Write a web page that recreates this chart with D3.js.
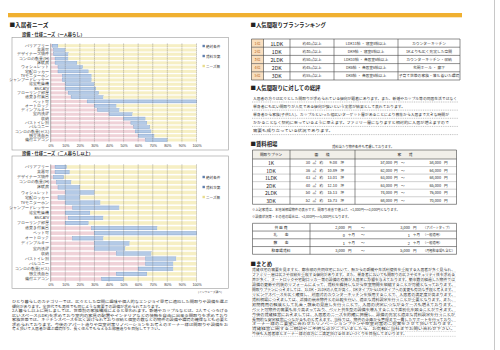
<!DOCTYPE html>
<html>
<head>
<meta charset="utf-8">
<script src="https://cdn.jsdelivr.net/npm/d3@7"></script>
<style>
  body { margin: 0; background: #fff; }
  svg { display: block; font-family: "Noto Sans CJK JP", "Noto Sans", sans-serif; }
</style>
</head>
<body>
<div id="page"></div>
<script>
// ---- data ----
const categories = ["バリアフリー", "楽器可", "デザイナーズ物件", "コンロの数量(IH)", "床暖房", "ウォシュレット",
  "宅配ロッカー", "TVモニターホン", "シャンプードレッサー", "浴室乾燥機", "BS/CATV", "フローリング部屋",
  "追焚き付風呂", "ペット可", "オートロック", "ディンプルキー", "室内洗濯", "収納", "バストイレ別",
  "バルコニー", "コンロの数量(ガス)", "独立洗面台", "備付エアコン"];
const seriesNames = ["絶対条件", "賃料次第", "ニーズ無"];
const tickValues = [0, 10, 20, 30, 40, 50, 60, 70, 80, 90, 100];

// 一人暮らし (%)
const singleAbs  = [1, 2, 2, 3, 3, 5, 5, 8, 8, 10, 10, 12, 14, 25, 30, 32, 40, 50, 55, 57, 58, 60, 65];
const singleRent = [4, 8, 10, 9, 15, 17, 21, 20, 20, 20, 21, 21, 22, 75, 15, 15, 16, 15, 11, 11, 11, 11, 15];
const singleNone = [95, 90, 88, 88, 82, 78, 74, 72, 72, 70, 69, 67, 64, 0, 55, 53, 44, 35, 34, 32, 31, 29, 20];

// 二人暮らし以上 (%)
const multiAbs  = [3, 3, 2, 4, 5, 10, 5, 10, 15, 10, 12, 10, 28, 30, 15, 30, 30, 45, 65, 65, 60, 45, 35];
const multiRent = [8, 10, 7, 10, 15, 20, 15, 24, 32, 17, 24, 16, 45, 70, 21, 24, 21, 24, 21, 19, 24, 21, 15];
const multiNone = [89, 87, 91, 86, 80, 70, 80, 66, 53, 73, 64, 74, 27, 0, 64, 46, 49, 31, 14, 16, 16, 34, 50];

// 人気間取りプランランキング
const rankLabels = ["1位", "2位", "3位", "4位", "5位"];
const rankPlans  = ["1LDK", "1DK", "2LDK", "2DK", "3DK"];
const rankAreas  = ["約40㎡以上", "約30㎡以上", "約50㎡以上", "約45㎡以上", "約55㎡以上"];
const rankRooms  = ["LDK11帖 ・ 寝室8帖以上", "DK9帖 ・ 寝室8帖以上", "LDK10帖 ・ 各居室6帖以上",
  "DK6帖 ・ 各居室6帖以上", "DK8帖 ・ 各居室6帖以上"];
const rankPoints = ["カウンターキッチン", "1Kよりも広く充実した空間", "カウンターキッチン・収納",
  "玄関ホール ・ 廊下", "子育て世帯の家族・落ち着いた環境"];

// 賃料相場
const rentPlans = ["1K", "1DK", "1LDK", "2DK", "2LDK", "3DK"];
const rentSqm   = [30, 36, 43, 40, 50, 52];
const rentTsubo = ["9.08", "10.89", "13.01", "12.10", "15.13", "15.73"];
const rentLow   = [57000, 62000, 63000, 63000, 74000, 68000];
const rentHigh  = [58000, 64000, 68000, 65000, 76000, 70000];

const feeLabels = ["共 益 費", "礼　　金", "敷　　金", "駐車場賃料"];
const feeLow    = ["2,000", "0", "1", "3,000"];
const feeHigh   = ["3,000", "1", "2", "5,000"];
const feeUnits  = ["円", "ヶ月", "ヶ月", "円"];
const feeNotes  = ["（アパートタイプ）", "（一般適用）", "（一般適用）", "（月極駐車場も含む）"];

const colors = ["#efd2d8", "#b4cae6", "#f6efc4"];
const strokes = ["none", "#6f93c2", "none"];

// ---- svg ----
const svg = d3.select("#page").append("svg")
    .attr("width", 500)
    .attr("height", 350);

function label(x, y, s, size, o = {}) {
  const t = svg.append("text")
      .attr("x", x).attr("y", y)
      .attr("font-size", size)
      .attr("fill", o.fill || "#222")
      .attr("font-weight", o.bold ? "bold" : null)
      .attr("text-anchor", o.anchor || "start")
      .attr("dominant-baseline", "central")
      .text(s);
  if (o.len) t.attr("textLength", o.len).attr("lengthAdjust", "spacingAndGlyphs");
  return t;
}

function hline(x1, x2, y, o = {}) {
  svg.append("line").attr("x1", x1).attr("x2", x2).attr("y1", y).attr("y2", y)
      .attr("stroke", o.stroke || "#555").attr("stroke-width", o.w || 0.5)
      .attr("stroke-dasharray", o.dash || null);
}
function vline(x, y1, y2, o = {}) {
  svg.append("line").attr("x1", x).attr("x2", x).attr("y1", y1).attr("y2", y2)
      .attr("stroke", o.stroke || "#555").attr("stroke-width", o.w || 0.5)
      .attr("stroke-dasharray", o.dash || null);
}

// page decoration
svg.append("rect").attr("x", 8).attr("y", 13).attr("width", 454).attr("height", 4.3).attr("fill", "#f0b030");
vline(494.5, 0, 350, {stroke: "#c8c8c8", w: 1});

// ---- needs charts ----
function drawNeeds(boxTop, boxBottom, rowTop, rowBottom, legendY, abs, rent, none) {
  const g = svg.append("g");
  g.append("rect").attr("x", 12).attr("y", boxTop).attr("width", 216.5).attr("height", boxBottom - boxTop)
      .attr("fill", "#fff").attr("stroke", "#999").attr("stroke-width", 0.6);

  const x = d3.scaleLinear().domain([0, 100]).range([50.7, 196.5]);
  const y = d3.scaleBand().domain(categories).range([rowTop, rowBottom])
      .paddingInner(0.3).paddingOuter(0.15);

  const rows = categories.map((c, i) => ({cat: c, "絶対条件": abs[i], "賃料次第": rent[i], "ニーズ無": none[i]}));
  const stacked = d3.stack().keys(seriesNames)(rows);

  g.selectAll("g.series")
    .data(stacked)
    .join("g")
      .attr("class", "series")
      .attr("fill", (d, i) => colors[i])
      .attr("stroke", (d, i) => strokes[i])
      .attr("stroke-width", 0.35)
    .selectAll("rect")
    .data(d => d)
    .join("rect")
      .attr("x", d => x(d[0]))
      .attr("width", d => x(d[1]) - x(d[0]))
      .attr("y", d => y(d.data.cat))
      .attr("height", y.bandwidth());

  // dashed gridlines
  g.append("g").selectAll("line")
    .data(tickValues.slice(1))
    .join("line")
      .attr("x1", d => x(d)).attr("x2", d => x(d))
      .attr("y1", rowTop).attr("y2", rowBottom)
      .attr("stroke", "#666").attr("stroke-width", 0.45)
      .attr("stroke-dasharray", "1.2,0.8");
  g.append("line").attr("x1", x(0)).attr("x2", x(0)).attr("y1", rowTop).attr("y2", rowBottom)
      .attr("stroke", "#555").attr("stroke-width", 0.5);

  // x axis
  const xa = g.append("g")
      .attr("transform", `translate(0,${rowBottom})`)
      .call(d3.axisBottom(x).tickValues(tickValues).tickSize(0).tickFormat(d => d + "%"));
  xa.select(".domain").remove();
  xa.selectAll("text").attr("y", 3.1).attr("dy", "0.35em")
      .attr("font-size", 3.6).attr("fill", "#333").attr("font-family", null);

  // y axis labels
  const ya = g.append("g")
      .attr("transform", `translate(${x(0) - 1.5},0)`)
      .call(d3.axisLeft(y).tickSize(0).tickPadding(0));
  ya.select(".domain").remove();
  ya.selectAll("text").attr("font-size", 3.5).attr("fill", "#333").attr("font-family", null);

  // legend
  seriesNames.forEach((s, i) => {
    const ly = legendY + i * 10;
    const c = i < 2 ? "#5f7fae" : "#e9dc8c";
    g.append("rect").attr("x", 202.5).attr("y", ly - 1.2).attr("width", 2.4).attr("height", 2.4).attr("fill", c);
    g.append("text").attr("x", 206).attr("y", ly).attr("dominant-baseline", "central")
        .attr("font-size", 3.6).attr("fill", "#333").text(s);
  });
}

// left column
label(9.5, 25, "■入居者ニーズ", 5.6, {bold: true});
label(22, 34, "設備・仕様ニーズ（一人暮らし）", 4.2, {bold: true});
drawNeeds(37.3, 150, 43.55, 142.15, 46, singleAbs, singleRent, singleNone);
label(22, 152.5, "設備・仕様ニーズ（二人暮らし以上）", 4.2, {bold: true});
drawNeeds(156, 288.5, 164.45, 281.55, 177, multiAbs, multiRent, multiNone);
label(222, 292, "(ペンウェーブ調べ)", 2.8, {anchor: "end", fill: "#444"});

const leftText = [
  "ひとり暮らしのカテゴリーでは、広々とした空間に趣味や個人的なエンジョイ思考に適応した間取りや設備を選ぶ",
  "傾向があります。全世代でも男性でも同じような需要での設備が求められております。",
  "2人暮らし以上に関しましては、世帯別の家族構成によると思われます。新婚やカップルなどは、2人でくつろげる",
  "広いスペース(LDK)を求めており室内の家具の配置やインテリアなどの装飾を自由に出来る間取りを求めており",
  "家族世帯では、キッチンスペースを広く設けられており収納と個室の数などの物件の設備や環境の確保なども必要と",
  "求められております。今後のアパート造りや空室対策リノベーションをお考えのオーナー様は間取りや設備をお",
  "考え頂いて入居者が選ぶ環境作り、長く住んでもらえるお部屋造りを目指して下さい。"
];
const leftLens = [216, 150, 216, 216, 216, 216, 150];
leftText.forEach((s, i) => label(12, 301 + i * 4.55, s, 3.9, {len: leftLens[i], fill: "#333"}));

// ---- right column ----
label(250.5, 24.5, "■人気間取りプランランキング", 5.4, {bold: true});

const rankCols = [251.5, 263.5, 290, 334, 398, 460];
const rankTop = 39, rankH = 8.2;
rankLabels.forEach((r, i) => {
  const ry = rankTop + i * rankH;
  svg.append("rect").attr("x", rankCols[0]).attr("y", ry).attr("width", rankCols[1] - rankCols[0])
      .attr("height", rankH).attr("fill", "#f9dfbf");
  label((rankCols[0] + rankCols[1]) / 2, ry + rankH / 2, r, 3.8, {anchor: "middle", fill: "#b8661a"});
  label((rankCols[1] + rankCols[2]) / 2, ry + rankH / 2, rankPlans[i], 5.2, {anchor: "middle"});
  label((rankCols[2] + rankCols[3]) / 2, ry + rankH / 2, rankAreas[i], 3.7, {anchor: "middle", fill: "#333"});
  label((rankCols[3] + rankCols[4]) / 2, ry + rankH / 2, rankRooms[i], 3.7, {anchor: "middle", fill: "#333"});
  label((rankCols[4] + rankCols[5]) / 2, ry + rankH / 2, rankPoints[i], 3.8, {anchor: "middle", fill: "#333"});
});
d3.range(rankLabels.length + 1).forEach(i => hline(rankCols[0], rankCols[5], rankTop + i * rankH, {stroke: "#444", w: 0.6}));
rankCols.forEach(c => vline(c, rankTop, rankTop + rankLabels.length * rankH, {stroke: "#444", w: 0.6}));

label(250.5, 87.5, "■人気間取りに対しての総評", 5.4, {bold: true});
const reviewText = [
  "入居者の方々は広々とした間取りが求められている傾向が顕著にあります。また、新婚やカップル等の同居生活ではなく",
  "単身者にも広い間取りが人気である傾向が強いという実態が結果として表れております。",
  "単身者から家族(子供1人)、カップルといった幅広いターゲット層があることにより募集から入居まで大きな時間が",
  "かかることなく契約に至っているように思えます。ファミリー層になりますと相対的に入居が増えますので",
  "需要も成り立っている状況であります。"
];
const reviewLens = [204, 152, 196, 196, 80];
reviewText.forEach((s, i) => {
  label(253, 98 + i * 8.15, s, 3.8, {len: reviewLens[i], fill: "#333"});
  hline(252, 458, 102 + i * 8.15, {stroke: "#777", w: 0.45, dash: "1,0.8"});
});

label(250.5, 143.5, "■賃料相場", 5.4, {bold: true});
label(332, 146, "賃料当たり物件条件も考慮しております。", 3.3, {fill: "#333"});

const rentCols = [252.5, 290, 355, 456.5];
const rentTop = 150, headH = 9, rowH = 7.55;
svg.append("rect").attr("x", rentCols[0]).attr("y", rentTop).attr("width", rentCols[3] - rentCols[0])
    .attr("height", headH).attr("fill", "#f1efe9");
label(271, rentTop + headH / 2, "間取りプラン", 3.7, {anchor: "middle"});
label(322, rentTop + headH / 2, "面　　積", 3.8, {anchor: "middle"});
label(405, rentTop + headH / 2, "家　　賃", 3.8, {anchor: "middle"});
rentPlans.forEach((p, i) => {
  const cy = rentTop + headH + i * rowH + rowH / 2;
  label(271, cy, p, 5, {anchor: "middle"});
  label(310, cy, rentSqm[i], 3.8, {anchor: "end"});
  label(312.5, cy, "㎡", 3.6);
  label(319.5, cy, "約", 3.6);
  label(337, cy, rentTsubo[i], 3.8, {anchor: "end"});
  label(340.5, cy, "坪", 3.6);
  label(392, cy, d3.format(",")(rentLow[i]), 3.8, {anchor: "end"});
  label(394, cy, "円", 3.6);
  label(401, cy, "〜", 3.6);
  label(441, cy, d3.format(",")(rentHigh[i]), 3.8, {anchor: "end"});
  label(444, cy, "円", 3.6);
});
const rentBottom = rentTop + headH + rentPlans.length * rowH;
hline(rentCols[0], rentCols[3], rentTop, {stroke: "#444", w: 0.6});
hline(rentCols[0], rentCols[3], rentTop + headH, {stroke: "#444", w: 0.6});
d3.range(1, rentPlans.length).forEach(i => hline(rentCols[0], rentCols[3], rentTop + headH + i * rowH, {stroke: "#888", w: 0.4}));
hline(rentCols[0], rentCols[3], rentBottom, {stroke: "#444", w: 0.6});
rentCols.forEach(c => vline(c, rentTop, rentBottom, {stroke: "#444", w: 0.6}));

label(252, 209.5, "※上記家賃は、本地域相場物件の表示です。間取り改善で値上げ、+1,000円〜+3,000円となります。", 3.3, {fill: "#333"});
label(252, 216.5, "※設備状況等・その他の場合は、+3,000円〜+5,000円となります。", 3.3, {fill: "#333"});

const feeTop = 223.3, feeH = 7.75, feeCols = [252.5, 310, 456.5];
feeLabels.forEach((f, i) => {
  const cy = feeTop + i * feeH + feeH / 2;
  label(281, cy, f, 3.8, {anchor: "middle"});
  label(345, cy, feeLow[i], 3.9, {anchor: "end"});
  label(348, cy, feeUnits[i], 3.5);
  label(361, cy, "〜", 3.6);
  label(410, cy, feeHigh[i], 3.9, {anchor: "end"});
  label(413, cy, feeUnits[i], 3.5);
  label(423, cy, feeNotes[i], 3.2, {fill: "#333"});
});
d3.range(feeLabels.length + 1).forEach(i => hline(feeCols[0], feeCols[2], feeTop + i * feeH, {stroke: "#444", w: 0.6}));
feeCols.forEach(c => vline(c, feeTop, feeTop + feeLabels.length * feeH, {stroke: "#444", w: 0.6}));

label(250.5, 263.5, "■まとめ", 5.4, {bold: true});
const summaryText = [
  "賃貸住宅の需要を見ますと、都市部の共同住宅において、駅からの距離や生活利便性を重視する入居者が多く見られ、",
  "ファミリー層は広さや収納を重視する傾向があります。また、単身者においても間取りの広さやセキュリティ性を求める",
  "声が多く、オートロックや宅配ロッカー等の設備の有無が入居率に影響を与えております。築年数の経過した物件では",
  "設備の更新や内装のリフォームによって、賃料を維持しながら空室期間を短縮することが可能となっております。",
  "間取りプランにつきましては、1LDK・2LDKの人気が高く、DKタイプからLDKタイプへの変更も有効な手段と考えます。",
  "リビングスペースを広く確保し、対面式のカウンターキッチンを採用することで、入居者の満足度が高まります。",
  "賃料相場につきましては、近隣の競合物件との比較を行い、適正な賃料設定を行うことが重要となります。また、",
  "初期費用の軽減として礼金・敷金の見直しを行うことで、入居の決定につながるケースも増えております。",
  "ペット可物件の需要も年々高まっており、ペット共生型の設備を導入することで差別化を図ることができます。",
  "今後の賃貸経営におきましては、入居者のニーズを的確に把握し、設備の充実と適正な賃料設定を行うことが",
  "長期的な安定経営につながるものと考えます。当社では、物件の企画から管理まで一貫したサポートを行っており、",
  "オーナー様のご要望に合わせたリノベーションプランや空室対策のご提案をさせて頂いております。",
  "賃貸経営に関するご相談やご不明な点がございましたら、お気軽に当社までお問い合わせ下さい。",
  "今後も入居者様とオーナー様の双方にご満足頂ける住まいづくりを目指してまいります。"
];
summaryText.forEach((s, i) => {
  const last = i === summaryText.length - 1;
  label(252, 269.5 + i * 4.95, s, 3.6, {len: last ? 155 : 203, fill: "#333"});
  hline(252, 456, 272 + i * 4.95, {stroke: "#888", w: 0.35, dash: "1,0.8"});
});
</script>
</body>
</html>
